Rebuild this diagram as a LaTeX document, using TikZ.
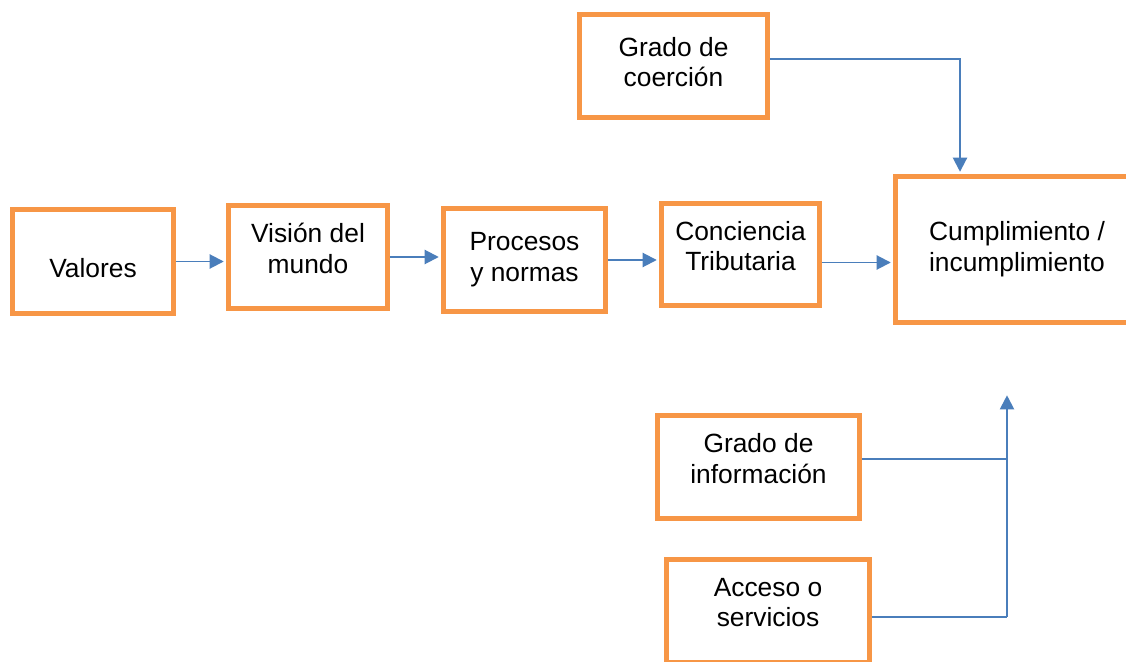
\documentclass[tikz,border=0pt]{standalone}
\usepackage{fontspec}
\setmainfont{Liberation Sans}
\usepackage{xcolor}
\usetikzlibrary{arrows.meta}
\definecolor{naranja}{HTML}{F79646}
\definecolor{azul}{HTML}{4A7EBB}

\begin{document}
\begin{tikzpicture}[
    x=0.02cm, y=-0.02cm,
    every node/.style={font=\fontsize{15}{17.5}\selectfont, align=center, inner sep=0pt}
  ]
  \tikzset{
    caja/.style={draw=naranja, line width=2.8pt, fill=white, minimum height=2.06cm},
    arriba/.style={text depth=0.34cm}, % texto un poco mas alto en la caja
    flecha/.style={draw=azul, line width=1.1pt, shorten >=1.3pt, -{Triangle[length=8pt,width=8pt]}},
    linea/.style={draw=azul, line width=1.1pt}
  }
  \clip (0,0) rectangle (1126,662);
  % cadena principal
  \node[caja, minimum width=3.22cm, minimum height=2.08cm, text height=0.66cm] (valores) at (93,261.5) {Valores};
  \node[caja, arriba, minimum width=3.18cm] (vision) at (308,257) {Visión del\\mundo};
  \node[caja, minimum width=3.24cm] (procesos) at (524.5,260) {Procesos\\y normas};
  \node[caja, arriba, minimum width=3.16cm, minimum height=2.04cm] (conciencia) at (740.5,254.5) {Conciencia\\Tributaria};
  \node[caja, minimum width=4.86cm, minimum height=2.92cm] (cumplimiento) at (1017,249.5) {Cumplimiento /\\incumplimiento};
  % factores externos
  \node[caja, minimum width=3.76cm, text depth=0.16cm] (coercion) at (673.5,66) {Grado de\\coerción};
  \node[caja, arriba, minimum width=4.04cm] (informacion) at (758.5,467) {Grado de\\información};
  \node[caja, arriba, minimum width=4.06cm] (acceso) at (768,611) {Acceso o\\servicios};
  \coordinate (union) at (1007,617);
  \coordinate (punta) at (1007,393);

  \draw[flecha] (valores.east) -- (valores.east -| vision.west);
  \draw[flecha] (vision.east) -- (vision.east -| procesos.west);
  \draw[flecha] (procesos.east) -- (procesos.east -| conciencia.west);
  \draw[flecha] ([yshift=-0.16cm]conciencia.east) -- ([yshift=-0.16cm]conciencia.east -| cumplimiento.west);
  \draw[flecha] ([yshift=0.14cm]coercion.east) -| ([xshift=-1.14cm]cumplimiento.north);
  \draw[linea] ([yshift=0.16cm]informacion.east) -- ([yshift=0.16cm]informacion.east -| union);
  \draw[linea] (acceso.east |- union) -- (union);
  \draw[flecha] (union) -- (punta);
\end{tikzpicture}
\end{document}
